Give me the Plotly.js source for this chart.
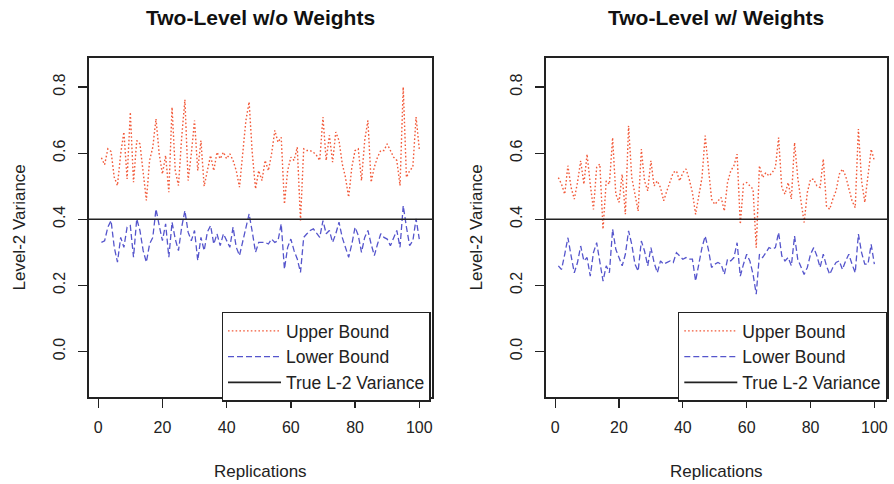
<!DOCTYPE html>
<html>
<head>
<meta charset="utf-8">
<script src="https://cdn.plot.ly/plotly-3.0.1.min.js"></script>
<style>html,body{margin:0;padding:0;background:#fff;}#chart{width:894px;height:484px;}</style>
</head>
<body>
<div id="chart"></div>
<script>
// ---- data ----
var panelTitles = ["Two-Level w/o Weights", "Two-Level w/ Weights"];
var seriesNames = ["Upper Bound", "Lower Bound", "True L-2 Variance"];
var xTitle = "Replications";
var yTitle = "Level-2 Variance";
var trueVar = 0.4;
var xTicks = [0, 20, 40, 60, 80, 100];
var yTicks = [0.0, 0.2, 0.4, 0.6, 0.8];

var woUpper = [0.586,0.565,0.613,0.605,0.527,0.502,0.598,0.664,0.522,0.724,
0.512,0.638,0.628,0.540,0.457,0.578,0.618,0.704,0.598,0.537,
0.593,0.482,0.739,0.547,0.502,0.648,0.762,0.517,0.598,0.699,
0.547,0.638,0.500,0.547,0.593,0.547,0.603,0.583,0.603,0.583,
0.598,0.578,0.547,0.497,0.598,0.699,0.755,0.598,0.492,0.547,
0.517,0.578,0.547,0.598,0.669,0.633,0.648,0.446,0.547,0.588,
0.578,0.618,0.396,0.613,0.608,0.608,0.603,0.593,0.578,0.709,
0.578,0.654,0.573,0.664,0.638,0.568,0.527,0.467,0.558,0.608,
0.613,0.517,0.638,0.699,0.512,0.558,0.588,0.608,0.608,0.628,
0.608,0.588,0.578,0.502,0.800,0.527,0.547,0.558,0.709,0.613];

var woLower = [0.330,0.335,0.376,0.396,0.315,0.270,0.345,0.315,0.376,0.381,
0.285,0.401,0.366,0.305,0.270,0.325,0.345,0.431,0.381,0.335,
0.386,0.285,0.391,0.340,0.305,0.376,0.426,0.361,0.335,0.366,
0.275,0.345,0.305,0.361,0.381,0.325,0.356,0.320,0.356,0.335,
0.315,0.376,0.315,0.290,0.335,0.381,0.416,0.361,0.300,0.330,
0.330,0.330,0.325,0.340,0.330,0.335,0.386,0.249,0.315,0.340,
0.305,0.280,0.239,0.345,0.356,0.366,0.371,0.356,0.345,0.396,
0.356,0.366,0.330,0.356,0.391,0.345,0.315,0.285,0.325,0.376,
0.351,0.300,0.345,0.366,0.325,0.290,0.325,0.356,0.345,0.340,
0.320,0.345,0.366,0.315,0.441,0.376,0.320,0.335,0.401,0.340];

var wUpper = [0.526,0.506,0.476,0.562,0.496,0.461,0.511,0.577,0.506,0.597,
0.506,0.430,0.557,0.567,0.370,0.516,0.506,0.647,0.476,0.451,
0.536,0.415,0.683,0.526,0.476,0.425,0.612,0.516,0.486,0.577,
0.501,0.516,0.496,0.456,0.486,0.511,0.541,0.546,0.516,0.541,
0.552,0.521,0.481,0.415,0.476,0.526,0.653,0.546,0.461,0.445,
0.456,0.466,0.425,0.511,0.546,0.562,0.597,0.385,0.506,0.511,
0.501,0.491,0.314,0.562,0.526,0.541,0.531,0.541,0.557,0.647,
0.496,0.476,0.511,0.461,0.632,0.526,0.456,0.390,0.481,0.521,
0.521,0.501,0.496,0.582,0.440,0.430,0.461,0.486,0.536,0.552,
0.531,0.491,0.456,0.435,0.673,0.516,0.451,0.531,0.612,0.577];

var wLower = [0.259,0.248,0.294,0.344,0.289,0.238,0.269,0.319,0.274,0.284,
0.228,0.299,0.329,0.264,0.213,0.259,0.238,0.370,0.309,0.284,
0.259,0.294,0.365,0.324,0.264,0.243,0.334,0.304,0.259,0.314,
0.269,0.238,0.274,0.264,0.269,0.274,0.269,0.299,0.289,0.279,
0.284,0.279,0.279,0.213,0.264,0.314,0.349,0.309,0.254,0.264,
0.269,0.264,0.233,0.279,0.274,0.284,0.329,0.228,0.264,0.294,
0.274,0.233,0.173,0.294,0.284,0.299,0.314,0.310,0.314,0.360,
0.289,0.274,0.284,0.259,0.349,0.279,0.254,0.233,0.254,0.294,
0.314,0.289,0.254,0.294,0.259,0.233,0.254,0.269,0.274,0.248,
0.274,0.294,0.264,0.238,0.355,0.299,0.264,0.264,0.324,0.264];

var reps = [];
for (var i = 1; i <= woUpper.length; i++) reps.push(i);

// ---- layout helpers ----
var W = 894, H = 484;
var xPad = 0.04 * (reps[reps.length-1] - reps[0]);
var xRange = [reps[0] - xPad, reps[reps.length-1] + xPad];
var yLim = [-0.1, 0.85];
var yPad = 0.04 * (yLim[1] - yLim[0]);
var yRange = [yLim[0] - yPad, yLim[1] + yPad];

var FONT = "Liberation Sans, Arial, Helvetica, sans-serif";
var red = "#F25A3A", blue = "#5555CC";

var boxes = [
  {x0: 88.7, x1: 432},
  {x0: 545.7, x1: 887}
];
var yTop = 58, yBot = 397;
var yDom = [1 - yBot / H, 1 - yTop / H];

var panels = [[woUpper, woLower], [wUpper, wLower]];
var traces = [];
panels.forEach(function (p, k) {
  var xa = k === 0 ? "x" : "x2", ya = k === 0 ? "y" : "y2";
  var lg = k === 0 ? "legend" : "legend2";
  traces.push({x: reps, y: p[0], xaxis: xa, yaxis: ya, mode: "lines", name: seriesNames[0],
    line: {color: red, width: 1.4, dash: "1.6px,2.2px"}, legend: lg});
  traces.push({x: reps, y: p[1], xaxis: xa, yaxis: ya, mode: "lines", name: seriesNames[1],
    line: {color: blue, width: 1.3, dash: "6px,3px"}, legend: lg});
  traces.push({x: xRange, y: [trueVar, trueVar], xaxis: xa, yaxis: ya, mode: "lines", name: seriesNames[2],
    line: {color: "#222", width: 1.6}, legend: lg});
});

function xaxis(k) {
  return {
    domain: [boxes[k].x0 / W, boxes[k].x1 / W], range: xRange, anchor: k === 0 ? "y" : "y2",
    tickvals: xTicks, ticks: "outside", ticklen: 9, tickwidth: 1.3, tickcolor: "#222",
    showline: true, linecolor: "#222", linewidth: 1.6, mirror: true,
    showgrid: false, zeroline: false, ticklabelstandoff: 6,
    tickfont: {family: FONT, size: 16, color: "#222"}
  };
}
function yaxis(k) {
  return {
    domain: yDom, range: yRange, anchor: k === 0 ? "x" : "x2",
    tickvals: yTicks, tickformat: ".1f", ticks: "outside", ticklen: 9, tickwidth: 1.3, tickcolor: "#222",
    showline: true, linecolor: "#222", linewidth: 1.6, mirror: true,
    showgrid: false, zeroline: false, tickangle: -90, ticklabelstandoff: 7,
    tickfont: {family: FONT, size: 16, color: "#222"}
  };
}
function legend(k) {
  return {
    x: (k === 0 ? 221.7 : 678) / W, y: 1 - 311.7 / H, xanchor: "left", yanchor: "top",
    bgcolor: "#fff", bordercolor: "#222", borderwidth: 1.3, itemwidth: 53,
    font: {family: FONT, size: 17.5, color: "#222"}, tracegroupgap: 0
  };
}

var annotations = [];
[0, 1].forEach(function (k) {
  var cx = (boxes[k].x0 + boxes[k].x1) / 2 / W;
  annotations.push({text: "<b>" + panelTitles[k] + "</b>", xref: "paper", yref: "paper",
    x: cx, y: 1 - 18 / H, xanchor: "center", yanchor: "middle", showarrow: false,
    font: {family: FONT, size: 21, color: "#111"}});
  annotations.push({text: xTitle, xref: "paper", yref: "paper",
    x: cx, y: 1 - 471 / H, xanchor: "center", yanchor: "middle", showarrow: false,
    font: {family: FONT, size: 17, color: "#222"}});
  annotations.push({text: yTitle, xref: "paper", yref: "paper", textangle: -90,
    x: (k === 0 ? 19 : 476) / W, y: 1 - 227.5 / H, xanchor: "center", yanchor: "middle", showarrow: false,
    font: {family: FONT, size: 17, color: "#222"}});
});

var layout = {
  width: W, height: H, margin: {l: 0, r: 0, t: 0, b: 0},
  paper_bgcolor: "#fff", plot_bgcolor: "#fff",
  font: {family: FONT, color: "#222"},
  xaxis: xaxis(0), yaxis: yaxis(0), xaxis2: xaxis(1), yaxis2: yaxis(1),
  legend: legend(0), legend2: legend(1),
  annotations: annotations, showlegend: true
};

Plotly.newPlot("chart", traces, layout, {displayModeBar: false, staticPlot: true});
</script>
</body>
</html>
